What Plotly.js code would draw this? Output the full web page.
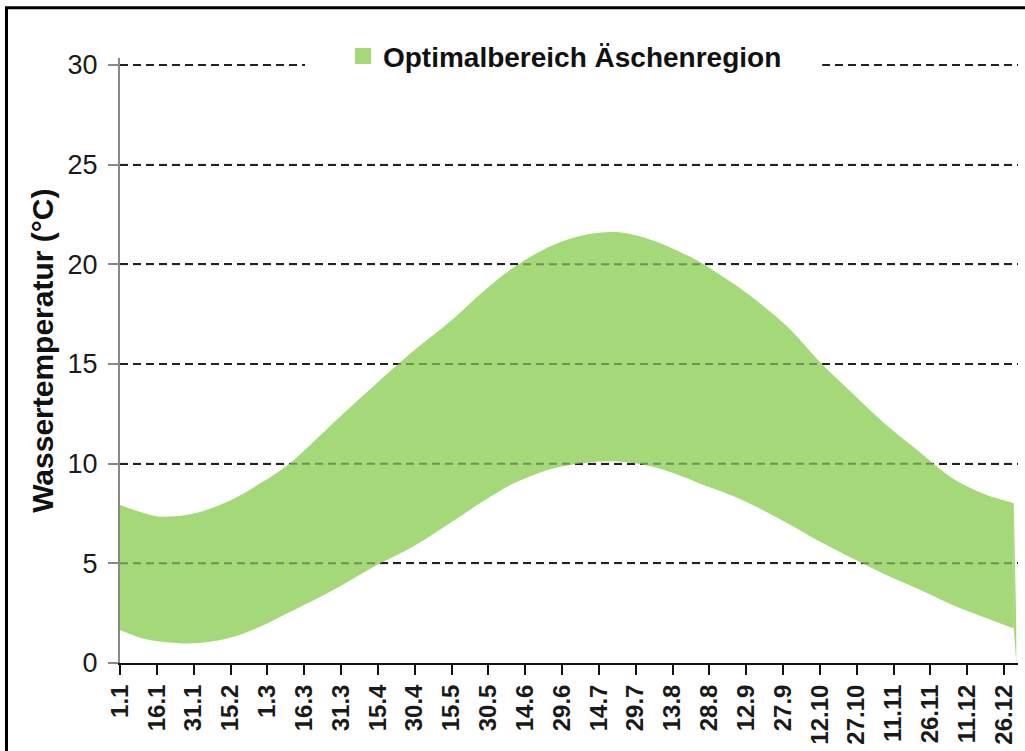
<!DOCTYPE html>
<html>
<head>
<meta charset="utf-8">
<script src="https://cdn.plot.ly/plotly-3.0.1.min.js"></script>
<style>
html,body{margin:0;padding:0;background:#fff;}
#chart{width:1025px;height:751px;}
</style>
</head>
<body>
<div id="chart"></div>
<script>
// Day of (leap) year
const days  = [1, 10, 17, 31, 45, 58, 70, 79, 91, 107, 119, 127, 137, 150, 162, 177, 191, 205, 218, 232, 238, 245, 253, 259, 273, 286, 300, 313, 327, 340, 354, 363, 365, 366];
const upper = [7.93, 7.55, 7.34, 7.5, 8.1, 9.0, 10.0, 11.0, 12.4, 14.2, 15.5, 16.3, 17.3, 18.75, 19.9, 20.95, 21.5, 21.6, 21.2, 20.45, 20.05, 19.5, 18.85, 18.3, 16.85, 15.1, 13.45, 11.95, 10.55, 9.27, 8.43, 8.09, 8.0, 1.75];
const lower = [1.66, 1.24, 1.08, 0.99, 1.24, 1.82, 2.55, 3.1, 3.88, 5.0, 5.75, 6.35, 7.15, 8.2, 9.05, 9.75, 10.05, 10.1, 9.85, 9.27, 8.95, 8.65, 8.25, 7.9, 7.0, 6.09, 5.2, 4.42, 3.66, 2.91, 2.24, 1.82, 1.75, 0];
const tickDays   = [1, 16, 31, 46, 61, 76, 91, 106, 121, 136, 151, 166, 181, 196, 211, 226, 241, 256, 271, 286, 301, 316, 331, 346, 361];
const tickLabels = ["1.1","16.1","31.1","15.2","1.3","16.3","31.3","15.4","30.4","15.5","30.5","14.6","29.6","14.7","29.7","13.8","28.8","12.9","27.9","12.10","27.10","11.11","26.11","11.12","26.12"];
const yTickVals  = [0, 5, 10, 15, 20, 25, 30];
const seriesName = "Optimalbereich Äschenregion";
const yTitle = "Wassertemperatur (°C)";

const fillColor = "rgb(165,216,120)";
const n = days.length;
// smooth body of the band, and the final (sharp) drop at year end
const bodyDays = days.slice(0, n - 1), bodyUp = upper.slice(0, n - 1), bodyLo = lower.slice(0, n - 1);
const endDays = days.slice(n - 2), endUp = upper.slice(n - 2), endLo = lower.slice(n - 2);

const traces = [
  {x: bodyDays, y: bodyLo, type: "scatter", mode: "lines", line: {width: 0, shape: "spline", smoothing: 1}, showlegend: false, hoverinfo: "skip"},
  {x: bodyDays, y: bodyUp, type: "scatter", mode: "lines", line: {width: 0, shape: "spline", smoothing: 1}, fill: "tonexty", fillcolor: fillColor, showlegend: false},
  {x: endDays, y: endLo, type: "scatter", mode: "lines", line: {width: 0}, showlegend: false, hoverinfo: "skip"},
  {x: endDays, y: endUp, type: "scatter", mode: "lines", line: {width: 0}, fill: "tonexty", fillcolor: fillColor, showlegend: false},
  // legend entry (square swatch)
  {x: [null], y: [null], type: "scatter", mode: "markers", marker: {symbol: "square", size: 16, color: "rgb(163,218,118)"}, name: seriesName, showlegend: true}
];

// faint dashed gridlines that show through the band (as in the original)
const overGrid = yTickVals.filter(v => v > 0 && v < 30).map(v => ({
  type: "line", xref: "paper", yref: "y", x0: 0, x1: 1, y0: v, y1: v,
  line: {color: "rgba(34,34,34,0.4)", width: 2, dash: "8px,5px"}, layer: "above"
}));

const layout = {
  width: 1025, height: 751,
  margin: {l: 120, r: 7, t: 58, b: 88},
  paper_bgcolor: "#fff", plot_bgcolor: "#fff",
  font: {family: "Liberation Sans, Arial, sans-serif", color: "#1a1a1a"},
  showlegend: true,
  legend: {
    x: 0.4955, xanchor: "center", y: 1.003, yanchor: "middle",
    bgcolor: "rgba(0,0,0,0)", borderwidth: 0,
    font: {size: 28, family: "Liberation Sans, Arial, sans-serif", color: "#111", weight: "bold"}
  },
  xaxis: {
    range: [1, 366.7],
    tickvals: tickDays, ticktext: tickLabels, tickangle: -90,
    tickfont: {size: 24, weight: "bold", color: "#1a1a1a"},
    ticks: "outside", ticklen: 10, tickwidth: 2, tickcolor: "#111",
    showline: true, linecolor: "#111", linewidth: 2,
    showgrid: false, zeroline: false, fixedrange: true
  },
  yaxis: {
    range: [0, 30.35], tickvals: yTickVals,
    tickfont: {size: 27, color: "#1a1a1a"},
    ticks: "outside", ticklen: 10, tickwidth: 2, tickcolor: "#888",
    ticklabelstandoff: 5,
    showline: true, linecolor: "#888", linewidth: 2,
    showgrid: true, gridcolor: "#222", gridwidth: 2, griddash: "8px,5px",
    zeroline: false, fixedrange: true
  },
  annotations: [
    {text: yTitle, xref: "paper", yref: "paper", x: -0.0857, y: 0.516, xanchor: "center", yanchor: "middle",
     textangle: -90, showarrow: false, font: {size: 30, weight: "bold", color: "#111"}}
  ],
  shapes: overGrid.concat([
    {type: "rect", xref: "paper", yref: "paper", x0: 0.206, x1: 0.782, y0: 0.975, y1: 1.0, fillcolor: "#fff", line: {width: 0}, layer: "above"},
    {type: "rect", xref: "paper", yref: "paper", x0: -0.1264, x1: 1.2, y0: -0.3, y1: 1.083, fillcolor: "rgba(0,0,0,0)", line: {width: 3, color: "#000"}, layer: "above"}
  ])
};

Plotly.newPlot("chart", traces, layout, {staticPlot: true, displayModeBar: false});
</script>
</body>
</html>
